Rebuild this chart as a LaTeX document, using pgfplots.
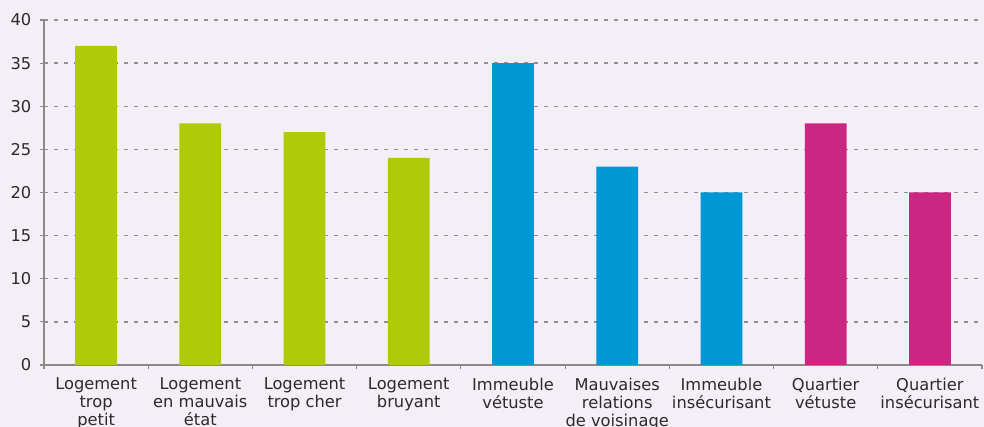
\documentclass[border=0pt]{standalone}
\usepackage{pgfplots}
\pgfplotsset{compat=1.18}
\usepackage{fontspec}
\setmainfont{DejaVu Sans}
\definecolor{bg}{HTML}{F4EEF6}
\definecolor{gridgray}{HTML}{958E8C}
\definecolor{axgray}{HTML}{8F8886}
\definecolor{txt}{HTML}{2B2B2B}
\definecolor{cgreen}{HTML}{AFCA0B}
\definecolor{cblue}{HTML}{0097D7}
\definecolor{cmag}{HTML}{CC2683}
\begin{document}
\begin{tikzpicture}[x=1pt,y=1pt]
\fill[bg] (-33,-46.5) rectangle (705,273.75);
\begin{axis}[
  at={(0,0)}, anchor=south west,
  scale only axis, width=703.5pt, height=258.75pt,
  xmin=-0.5, xmax=8.5, ymin=0, ymax=40,
  axis x line*=bottom, axis y line*=left,
  axis line style={axgray, line width=0.8pt},
  ytick={0,5,...,40},
  ymajorgrids,
  major grid style={gridgray, line width=1pt, dash pattern=on 3pt off 4.5pt},
  tick align=outside,
  major tick length=3pt,
  tick style={axgray, line width=0.8pt},
  xtick={-0.5,0.5,1.5,2.5,3.5,4.5,5.5,6.5,7.5,8.5},
  xticklabels={},
  extra x ticks={0,1,2,3,4,5,6,7,8},
  extra x tick labels={{Logement\\trop\\petit},{Logement\\en mauvais\\état},{Logement\\trop cher},{Logement\\bruyant},{Immeuble\\vétuste},{Mauvaises\\relations\\de voisinage},{Immeuble\\insécurisant},{Quartier\\vétuste},{Quartier\\insécurisant}},
  extra x tick style={major tick length=0pt, xmajorgrids=false},
  /pgf/number format/assume math mode=true,
  ticklabel style={font=\fontsize{12.2}{13.6}\selectfont, text=txt},
  xticklabel style={align=center, yshift=-6pt},
  yticklabel style={xshift=-3pt},
  ybar, bar width=31.3pt,
  every axis plot/.append style={bar shift=0pt, draw=none},
  clip=false,
]
\addplot[fill=cgreen] coordinates {(0,37) (1,28) (2,27) (3,24)};
\addplot[fill=cblue] coordinates {(4,35) (5,23) (6,20)};
\addplot[fill=cmag] coordinates {(7,28) (8,20)};
\end{axis}
\pgfresetboundingbox
\useasboundingbox (-33,-46.5) rectangle (705,273.75);
\end{tikzpicture}
\end{document}
